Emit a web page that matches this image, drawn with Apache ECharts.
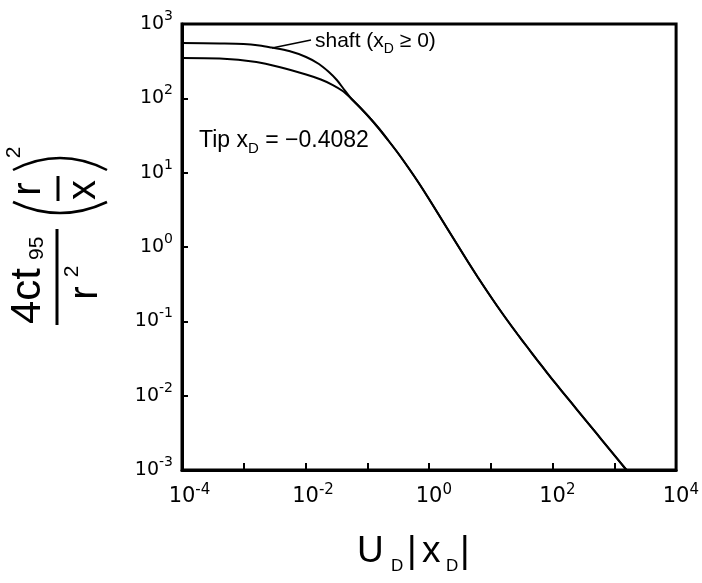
<!DOCTYPE html>
<html>
<head>
<meta charset="utf-8">
<script src="https://cdn.jsdelivr.net/npm/echarts@6/dist/echarts.min.js"></script>
<style>html,body{margin:0;padding:0;background:#fff}#c{width:702px;height:583px}</style>
</head>
<body>
<div id="c"></div>
<script>
// Upper (plateau) part of the shaft curve
var shaftX = [1e-4, 4.07e-4, 9.91e-4, 1.79e-3, 2.79e-3, 5.43e-3, 0.0102, 0.0165, 0.0239, 0.0321, 0.0415];
var shaftY = [555, 547, 538, 514, 483, 433, 360, 290, 226, 176.5, 133.5];
// Upper (plateau) part of the tip curve
var tipX = [1e-4, 4.07e-4, 1.60e-3, 3.75e-3, 0.0102, 0.0177, 0.0277, 0.0400];
var tipY = [349, 343, 308, 264, 209, 179, 151, 125.5];
// Common descending tail of both curves
var tailX = [0.0538, 0.0724, 0.1047, 0.1517, 0.2193, 0.3177, 0.4603, 0.6653, 0.9638, 1.396, 2.018, 2.924, 4.236, 6.124, 8.872, 12.83, 18.58, 26.92, 38.90, 56.36, 81.66, 118.0, 171.0, 247.7, 358.1, 518.8, 751.6, 1086, 1573];
var tailY = [101.0, 78.86, 56.97, 39.88, 27.09, 18.11, 11.73, 7.486, 4.632, 2.822, 1.719, 1.047, 0.6379, 0.3947, 0.2479, 0.1582, 0.1026, 0.06752, 0.04513, 0.03017, 0.02030, 0.01382, 0.009471, 0.006510, 0.004476, 0.003077, 0.002115, 0.001454, 0.001];
// Axis ranges / tick labels (powers of ten)
var xExps = [-4, -3, -2, -1, 0, 1, 2, 3, 4];
var xLabelExps = [-4, -2, 0, 2, 4];
var yExps = [-3, -2, -1, 0, 1, 2, 3];

function pairs(xs, ys) { return xs.map(function (x, i) { return [x, ys[i]]; }); }
var shaftData = pairs(shaftX, shaftY).concat(pairs(tailX, tailY));
var tipData = pairs(tipX, tipY).concat(pairs(tailX, tailY));

var FONT = 'Liberation Sans';
var TFONT = 'DejaVu Sans';
function expOf(v) { return Math.round(Math.log(v) / Math.LN10); }
function supWidth(e, fs) {
  var s = String(e), w = 0;
  for (var i = 0; i < s.length; i++) w += (s[i] === '-' ? 0.361 : 0.636) * fs;
  return w;
}

var xRich = {};
xLabelExps.forEach(function (e) {
  xRich['b' + (e < 0 ? 'm' + (-e) : e)] = { fontFamily: TFONT, fontSize: 21, color: '#000', padding: [0, 0, 0, supWidth(e, 15)] };
});
xRich.s = { fontFamily: TFONT, fontSize: 15, color: '#000', padding: [0, 0, 13, 0] };

var chart = echarts.init(document.getElementById('c'), null, { renderer: 'canvas' });
chart.setOption({
  animation: false,
  backgroundColor: '#fff',
  grid: { left: 182, top: 24, width: 498, height: 446, show: true, borderColor: '#000', borderWidth: 3, backgroundColor: 'transparent' },
  xAxis: {
    type: 'log', logBase: 10, min: Math.pow(10, xExps[0]), max: Math.pow(10, xExps[xExps.length - 1]), splitNumber: xExps.length - 1,
    axisLine: { lineStyle: { color: '#000', width: 3 } },
    axisTick: { inside: true, length: 7, lineStyle: { color: '#000', width: 2 } },
    splitLine: { show: false },
    axisLabel: {
      interval: 0, margin: 13, showMinLabel: true, showMaxLabel: true,
      formatter: function (v) {
        var e = expOf(v);
        if (xLabelExps.indexOf(e) < 0) return '';
        return '{b' + (e < 0 ? 'm' + (-e) : e) + '|10}{s|' + e + '}';
      },
      rich: xRich
    }
  },
  yAxis: {
    type: 'log', logBase: 10, min: Math.pow(10, yExps[0]), max: Math.pow(10, yExps[yExps.length - 1]), splitNumber: yExps.length - 1,
    axisLine: { lineStyle: { color: '#000', width: 3 } },
    axisTick: { inside: true, length: 6, lineStyle: { color: '#000', width: 2 } },
    splitLine: { show: false },
    axisLabel: {
      interval: 0, margin: 9, showMinLabel: true, showMaxLabel: true,
      formatter: function (v) { return '{b|10}{s|' + expOf(v) + '}'; },
      rich: {
        b: { fontFamily: TFONT, fontSize: 19, color: '#000' },
        s: { fontFamily: TFONT, fontSize: 14, color: '#000', padding: [0, 0, 15, 0] }
      }
    }
  },
  series: [
    { type: 'line', data: shaftData, showSymbol: false, smooth: 0.3, lineStyle: { color: '#000', width: 2 }, z: 3 },
    { type: 'line', data: tipData, showSymbol: false, smooth: 0.3, lineStyle: { color: '#000', width: 2 }, z: 3 }
  ],
  graphic: [
    // leader line for the shaft annotation
    { type: 'line', shape: { x1: 272, y1: 48, x2: 311, y2: 40 }, style: { stroke: '#000', lineWidth: 1.5 } },
    { type: 'text', x: 315, y: 41, style: {
      text: '{a|shaft (x}{s|D}{a| \u2265 0)}', textVerticalAlign: 'middle', textAlign: 'left',
      rich: { a: { fontFamily: FONT, fontSize: 21, fill: '#000' }, s: { fontFamily: FONT, fontSize: 14, fill: '#000', padding: [16, 0, 0, 0] } }
    } },
    { type: 'text', x: 199, y: 141, style: {
      text: '{a|Tip x}{s|D}{a| = \u22120.4082}', textVerticalAlign: 'middle', textAlign: 'left',
      rich: { a: { fontFamily: FONT, fontSize: 23, fill: '#000' }, s: { fontFamily: FONT, fontSize: 15, fill: '#000', padding: [16, 0, 0, 0] } }
    } },
    // x axis title: U_D |x_D|
    { type: 'text', x: 357, y: 552, style: { text: 'U', font: '37px "Liberation Sans"', fill: '#000', textVerticalAlign: 'middle' } },
    { type: 'text', x: 391, y: 566, style: { text: 'D', font: '17px "Liberation Sans"', fill: '#000', textVerticalAlign: 'middle' } },
    { type: 'text', x: 407, y: 552, style: { text: '|', font: '37px "Liberation Sans"', fill: '#000', textVerticalAlign: 'middle' } },
    { type: 'text', x: 422, y: 552, style: { text: 'x', font: '37px "Liberation Sans"', fill: '#000', textVerticalAlign: 'middle' } },
    { type: 'text', x: 446, y: 566, style: { text: 'D', font: '17px "Liberation Sans"', fill: '#000', textVerticalAlign: 'middle' } },
    { type: 'text', x: 460, y: 552, style: { text: '|', font: '37px "Liberation Sans"', fill: '#000', textVerticalAlign: 'middle' } },
    // y axis title, rotated
    { type: 'group', x: 0, y: 325, rotation: Math.PI / 2, children: [
      { type: 'text', x: 1, y: 28.3, style: { text: '4ct', font: '42px "Liberation Sans"', fill: '#000', textAlign: 'left', textVerticalAlign: 'middle' } },
      { type: 'text', x: 65, y: 37.7, style: { text: '95', font: '21px "Liberation Sans"', fill: '#000', textAlign: 'left', textVerticalAlign: 'middle' } },
      { type: 'line', shape: { x1: 0, y1: 57, x2: 96, y2: 57 }, style: { stroke: '#000', lineWidth: 3 } },
      { type: 'text', x: 32, y: 86, style: { text: 'r', font: '40px "Liberation Sans"', fill: '#000', textAlign: 'center', textVerticalAlign: 'middle' } },
      { type: 'text', x: 53.5, y: 72.6, style: { text: '2', font: '21px "Liberation Sans"', fill: '#000', textAlign: 'center', textVerticalAlign: 'middle' } },
      { type: 'bezierCurve', shape: { x1: 123, y1: 13, x2: 123, y2: 107, cpx1: 101, cpy1: 60 }, style: { stroke: '#000', fill: null, lineWidth: 2.5 } },
      { type: 'bezierCurve', shape: { x1: 155, y1: 13, x2: 155, y2: 107, cpx1: 179, cpy1: 60 }, style: { stroke: '#000', fill: null, lineWidth: 2.5 } },
      { type: 'text', x: 136, y: 29, style: { text: 'r', font: '40px "Liberation Sans"', fill: '#000', textAlign: 'center', textVerticalAlign: 'middle' } },
      { type: 'line', shape: { x1: 124, y1: 58, x2: 149, y2: 58 }, style: { stroke: '#000', lineWidth: 3 } },
      { type: 'text', x: 135, y: 84, style: { text: 'x', font: '40px "Liberation Sans"', fill: '#000', textAlign: 'center', textVerticalAlign: 'middle' } },
      { type: 'text', x: 172.5, y: 14.6, style: { text: '2', font: '21px "Liberation Sans"', fill: '#000', textAlign: 'center', textVerticalAlign: 'middle' } }
    ] }
  ]
});
</script>
</body>
</html>
